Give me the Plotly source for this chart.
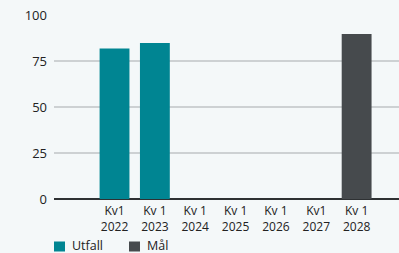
import plotly.graph_objects as go

categories = ["Kv1<br>2022", "Kv 1<br>2023", "Kv 1<br>2024", "Kv 1<br>2025",
              "Kv 1<br>2026", "Kv1<br>2027", "Kv 1<br>2028"]
utfall = [82, 85, None, None, None, None, None]
maal = [None, None, None, None, None, None, 90]
y_ticks = [0, 25, 50, 75, 100]
series_names = ["Utfall", "Mål"]
series_colors = ["#008592", "#464a4d"]

W, H = 399, 253
ML, MR, MT, MB = 54, 0, 15, 54
font = "Open Sans"

fig = go.Figure()
for name, vals, col in zip(series_names, [utfall, maal], series_colors):
    fig.add_trace(go.Bar(x=categories, y=vals, name=name, marker_color=col,
                         width=0.74, marker_line_width=0, showlegend=False,
                         hoverinfo="skip"))

# manual legend (square + label), positioned in pixels converted to paper coords
pw, ph = W - ML - MR, H - MT - MB
def px_x(p):
    return (p - ML) / pw
def px_y(p):
    return (H - MB - p) / ph

legend_x = [54, 129]
for lx, name, col in zip(legend_x, series_names, series_colors):
    fig.add_shape(type="rect", xref="paper", yref="paper",
                  x0=px_x(lx), x1=px_x(lx + 11), y0=px_y(251.5), y1=px_y(241.5),
                  fillcolor=col, line_width=0)
    fig.add_annotation(text=name, xref="paper", yref="paper", x=px_x(lx + 16),
                       y=px_y(245.5), xanchor="left", yanchor="middle", showarrow=False,
                       font=dict(size=12.5, color="#222222", family=font))

fig.update_layout(
    width=W, height=H,
    margin=dict(l=ML, r=MR, t=MT, b=MB),
    paper_bgcolor="#f4f8f9", plot_bgcolor="#f4f8f9",
    barmode="overlay",
    font=dict(family=font, size=12, color="#222222"),
    showlegend=False,
    xaxis=dict(type="category", range=[-1.5, 7.05], showgrid=False,
               ticks="", tickfont=dict(size=12), ticklabelstandoff=3),
    yaxis=dict(range=[0, 100.3], tickvals=y_ticks, showgrid=True, gridcolor="#cdd1d3",
               gridwidth=1.5, zeroline=True, zerolinecolor="#2e3133", zerolinewidth=2,
               ticks="", tickfont=dict(size=13), ticklabelstandoff=6),
)
fig.write_html("out.html", config={"displayModeBar": False},
               post_script="document.body.style.margin='0';")
